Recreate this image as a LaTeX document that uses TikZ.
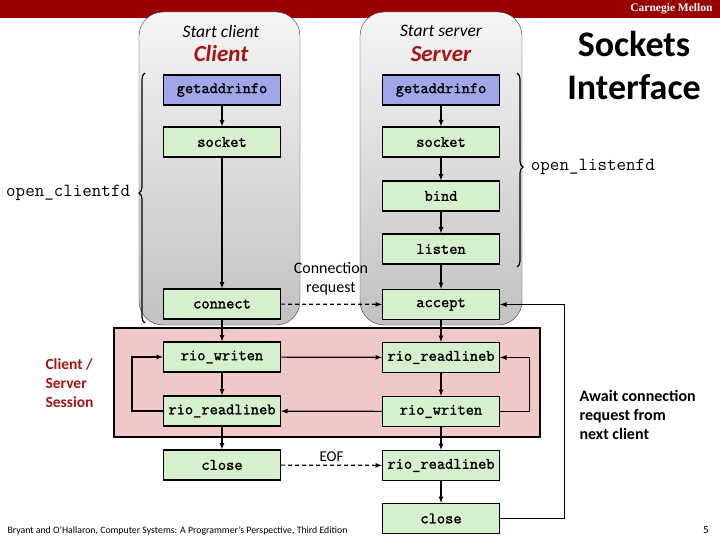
\documentclass[tikz,border=0pt]{standalone}
\usepackage{fontspec}
\setmainfont{Carlito}
\newfontfamily\brandfont{Liberation Serif}
\newfontfamily\callfont[FakeBold=1.6]{Latin Modern Mono}
\usetikzlibrary{arrows,positioning,decorations.pathreplacing}

\definecolor{cmured}{RGB}{153,0,0}
\definecolor{titlered}{RGB}{165,20,20}
\definecolor{callgreen}{RGB}{214,240,206}
\definecolor{callblue}{RGB}{160,166,232}
\definecolor{sessionpink}{RGB}{240,200,200}

\tikzset{
  call/.style={draw, line width=1.2pt, fill=callgreen, minimum width=117pt,
    minimum height=30pt, inner sep=0pt,
    font=\callfont\fontsize{16}{16}\selectfont},
  lookup/.style={call, fill=callblue},
  panel/.style={draw=black!80, rounded corners=24pt, top color=gray!8, bottom color=gray!48},
  flow/.style={->, >=latex, line width=1.2pt},
  dashflow/.style={flow, dash pattern=on 4pt off 3pt},
  bracket/.style={line width=1.2pt, decorate},
  fdlabel/.style={font=\ttfamily\fontsize{18.5}{18.5}\selectfont}
}

\begin{document}
\begin{tikzpicture}[x=1pt,y=-1pt]
\useasboundingbox (0,0) rectangle (720,540);

% header bar
\fill[cmured] (0,0) rectangle (720,18);
\node[text=white, anchor=east, font=\brandfont\bfseries\fontsize{11.5}{11.5}\selectfont] (brand) at (716,9) {Carnegie Mellon};

% client and server panels
\draw[panel] (139,12) rectangle (300,325);
\draw[panel] (360,12) rectangle (522,325);

% session area
\draw[fill=sessionpink, line width=1.6pt] (114,328) rectangle (540,437);

\node[font=\itshape\fontsize{17.5}{17.5}\selectfont] (startc) at (221,31) {Start client};
\node[text=titlered, font=\bfseries\itshape\fontsize{23}{23}\selectfont] (clienttitle) at (221,54) {Client};
\node[font=\itshape\fontsize{17.5}{17.5}\selectfont] (starts) at (441,31) {Start server};
\node[text=titlered, font=\bfseries\itshape\fontsize{23}{23}\selectfont] (servertitle) at (441,54) {Server};

% client calls
\node[lookup] (cgai) at (222,90) {getaddrinfo};
\node[call, below=20.8pt of cgai] (csock) {socket};
\node[call] (cconn) at (222,304) {connect};
\node[call, below=21.8pt of cconn] (cwrite) {rio\_writen};
\node[call, below=22.8pt of cwrite] (cread) {rio\_readlineb};
\node[call, below=22.8pt of cread] (cclose) {close};

% server calls
\node[lookup] (sgai) at (441,90) {getaddrinfo};
\node[call, below=20.8pt of sgai] (ssock) {socket};
\node[call, below=22.8pt of ssock] (sbind) {bind};
\node[call, below=21.8pt of sbind] (slisten) {listen};
\node[call, below=24.3pt of slisten] (saccept) {accept};
\node[call, below=21.8pt of saccept] (sread) {rio\_readlineb};
\node[call, below=22.8pt of sread] (swrite) {rio\_writen};
\node[call, below=22.8pt of swrite] (seof) {rio\_readlineb};
\node[call, below=21.8pt of seof] (sclose) {close};

\draw[flow] (cgai) -- (csock);
\draw[flow] (csock) -- (cconn);
\draw[flow] (cconn) -- (cwrite);
\draw[flow] (cwrite) -- (cread);
\draw[flow] (cread) -- (cclose);

\draw[flow] (sgai) -- (ssock);
\draw[flow] (ssock) -- (sbind);
\draw[flow] (sbind) -- (slisten);
\draw[flow] (slisten) -- (saccept);
\draw[flow] (saccept) -- (sread);
\draw[flow] (sread) -- (swrite);
\draw[flow] (swrite) -- (seof);
\draw[flow] (seof) -- (sclose);

% connection and session traffic
\node[align=center, font=\fontsize{16}{19}\selectfont] (connreq) at (331,279) {Connection\\request};
\draw[dashflow] (cconn) -- (saccept);
\draw[flow] (cwrite) -- (sread);
\draw[flow] (swrite) -- (cread);
\draw[flow] (cread.west) -- ++(-31,0) |- (cwrite.west);
\draw[flow] (swrite.east) -- ++(29,0) |- (sread.east);
\draw[dashflow] (cclose) -- node[above=0pt, font=\fontsize{15}{15}\selectfont] (eof) {EOF} (seof);
\draw[flow] (sclose.east) -- ++(64,0) |- (saccept.east);

% helper braces
\coordinate (cbrace-bot) at (145,323);
\coordinate (cbrace-top) at (145,73);
\draw[bracket, decoration={brace, amplitude=6pt, aspect=0.52}] (cbrace-bot) -- (cbrace-top)
  node[pos=0.52, left=11pt, fdlabel] (openc) {open\_clientfd};
\coordinate (sbrace-top) at (517,73);
\coordinate (sbrace-bot) at (517,267);
\draw[bracket, decoration={brace, amplitude=6pt, aspect=0.485}] (sbrace-top) -- (sbrace-bot)
  node[pos=0.485, right=10pt, fdlabel] (opens) {open\_listenfd};

% side texts
\node[align=center, font=\bfseries\fontsize{36}{43}\selectfont] (title) at (634,66) {Sockets\\Interface};
\node[anchor=west, align=left, text=titlered, font=\bfseries\fontsize{15.5}{19}\selectfont] (session) at (42,383) {Client /\\Server\\Session};
\node[anchor=west, align=left, font=\bfseries\fontsize{16}{19}\selectfont] (await) at (576,415) {Await connection\\request from\\next client};

% footer
\node[anchor=west, font=\fontsize{9.8}{9.8}\selectfont] (credit) at (4,531) {Bryant and O'Hallaron, Computer Systems: A Programmer's Perspective, Third Edition};
\node[font=\fontsize{11}{11}\selectfont] (pageno) at (706,530) {5};
\end{tikzpicture}
\end{document}
